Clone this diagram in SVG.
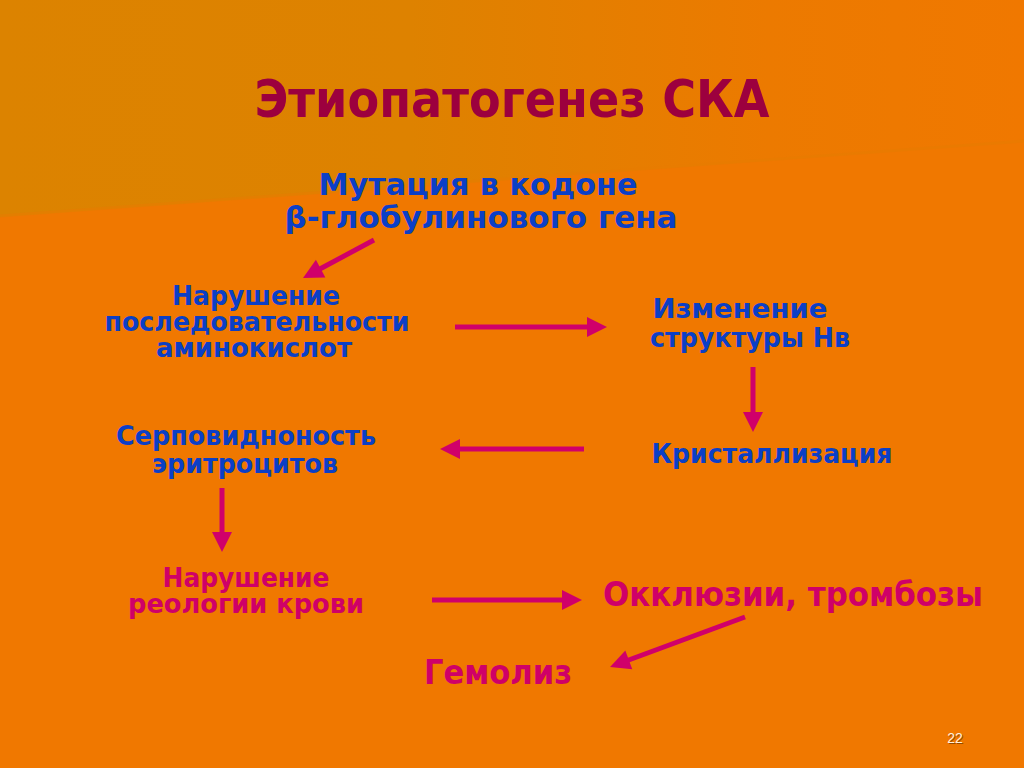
<svg xmlns="http://www.w3.org/2000/svg" width="1024" height="768" viewBox="0 0 1024 768">
<defs>
<linearGradient id="bgTop" x1="0" y1="0" x2="1" y2="0">
<stop offset="0" stop-color="#DC8300"/>
<stop offset="0.4" stop-color="#DE8200"/>
<stop offset="0.75" stop-color="#EC7A00"/>
<stop offset="1" stop-color="#F07800"/>
</linearGradient>
<marker id="ah" markerWidth="4" markerHeight="4" refX="0.6" refY="2" orient="auto" markerUnits="strokeWidth" overflow="visible">
<path d="M0,0 L4,2 L0,4 z" fill="#D0006A"/>
</marker>
<style>
.blue{font-family:"DejaVu Sans",Verdana,sans-serif;font-weight:bold;fill:#0B3FC6;text-anchor:middle}
.pink{font-family:"DejaVu Sans Condensed","DejaVu Sans",Tahoma,sans-serif;font-weight:bold;fill:#CF0068;text-anchor:middle}
.title{font-family:"DejaVu Sans Condensed","DejaVu Sans",Tahoma,sans-serif;font-weight:bold;fill:#9C003E;text-anchor:middle}
.conn line{stroke:#D0006A;stroke-width:5;fill:none;marker-end:url(#ah)}
</style>
</defs>
<rect width="1024" height="768" fill="#F07800"/>
<polygon points="0,0 1024,0 1024,142 0,217" fill="url(#bgTop)"/>
<line x1="0" y1="216" x2="1024" y2="141" stroke="#E87C00" stroke-width="3" opacity="0.6"/>
<text class="title" x="512" y="117" font-size="51" textLength="515" lengthAdjust="spacingAndGlyphs">Этиопатогенез СКА</text>
<g id="n-mutation">
<text class="blue" x="478" y="195" font-size="30" textLength="319" lengthAdjust="spacingAndGlyphs">Мутация в кодоне</text>
<text class="blue" x="481" y="228" font-size="30" textLength="393" lengthAdjust="spacingAndGlyphs">β-глобулинового гена</text>
</g>
<g id="n-sequence">
<text class="blue" x="256" y="305" font-size="26" textLength="168" lengthAdjust="spacingAndGlyphs">Нарушение</text>
<text class="blue" x="257" y="331" font-size="26" textLength="305" lengthAdjust="spacingAndGlyphs">последовательности</text>
<text class="blue" x="254" y="357" font-size="26" textLength="196" lengthAdjust="spacingAndGlyphs">аминокислот</text>
</g>
<g id="n-structure">
<text class="blue" x="740" y="318" font-size="26" textLength="175" lengthAdjust="spacingAndGlyphs">Изменение</text>
<text class="blue" x="750" y="347" font-size="26" textLength="200" lengthAdjust="spacingAndGlyphs">структуры Нв</text>
</g>
<g id="n-crystal">
<text class="blue" x="772" y="463" font-size="26" textLength="241" lengthAdjust="spacingAndGlyphs">Кристаллизация</text>
</g>
<g id="n-sickle">
<text class="blue" x="246" y="445" font-size="26" textLength="260" lengthAdjust="spacingAndGlyphs">Серповидноность</text>
<text class="blue" x="245" y="473" font-size="26" textLength="186" lengthAdjust="spacingAndGlyphs">эритроцитов</text>
</g>
<g id="n-rheology">
<text class="pink" x="246" y="587" font-size="27" textLength="167" lengthAdjust="spacingAndGlyphs">Нарушение</text>
<text class="pink" x="246" y="613" font-size="27" textLength="236" lengthAdjust="spacingAndGlyphs">реологии крови</text>
</g>
<g id="n-occlusion">
<text class="pink" x="793" y="606" font-size="33" textLength="380" lengthAdjust="spacingAndGlyphs">Окклюзии, тромбозы</text>
</g>
<g id="n-hemolysis">
<text class="pink" x="498" y="684" font-size="33" textLength="148" lengthAdjust="spacingAndGlyphs">Гемолиз</text>
</g>
<g id="connectors" class="conn">
<line x1="374" y1="240" x2="318" y2="270"/>
<line x1="455" y1="327" x2="590" y2="327"/>
<line x1="753" y1="367" x2="753" y2="415"/>
<line x1="584" y1="449" x2="457" y2="449"/>
<line x1="222" y1="488" x2="222" y2="535"/>
<line x1="432" y1="600" x2="565" y2="600"/>
<line x1="745" y1="617" x2="626" y2="661"/>
</g>
<text x="955" y="743" font-family="Liberation Sans,Arial,sans-serif" font-size="14" fill="#5A2A00" text-anchor="middle" opacity="0.6" transform="translate(1,1)">22</text>
<text x="955" y="743" font-family="Liberation Sans,Arial,sans-serif" font-size="14" fill="#FFF0DC" text-anchor="middle">22</text>
</svg>
